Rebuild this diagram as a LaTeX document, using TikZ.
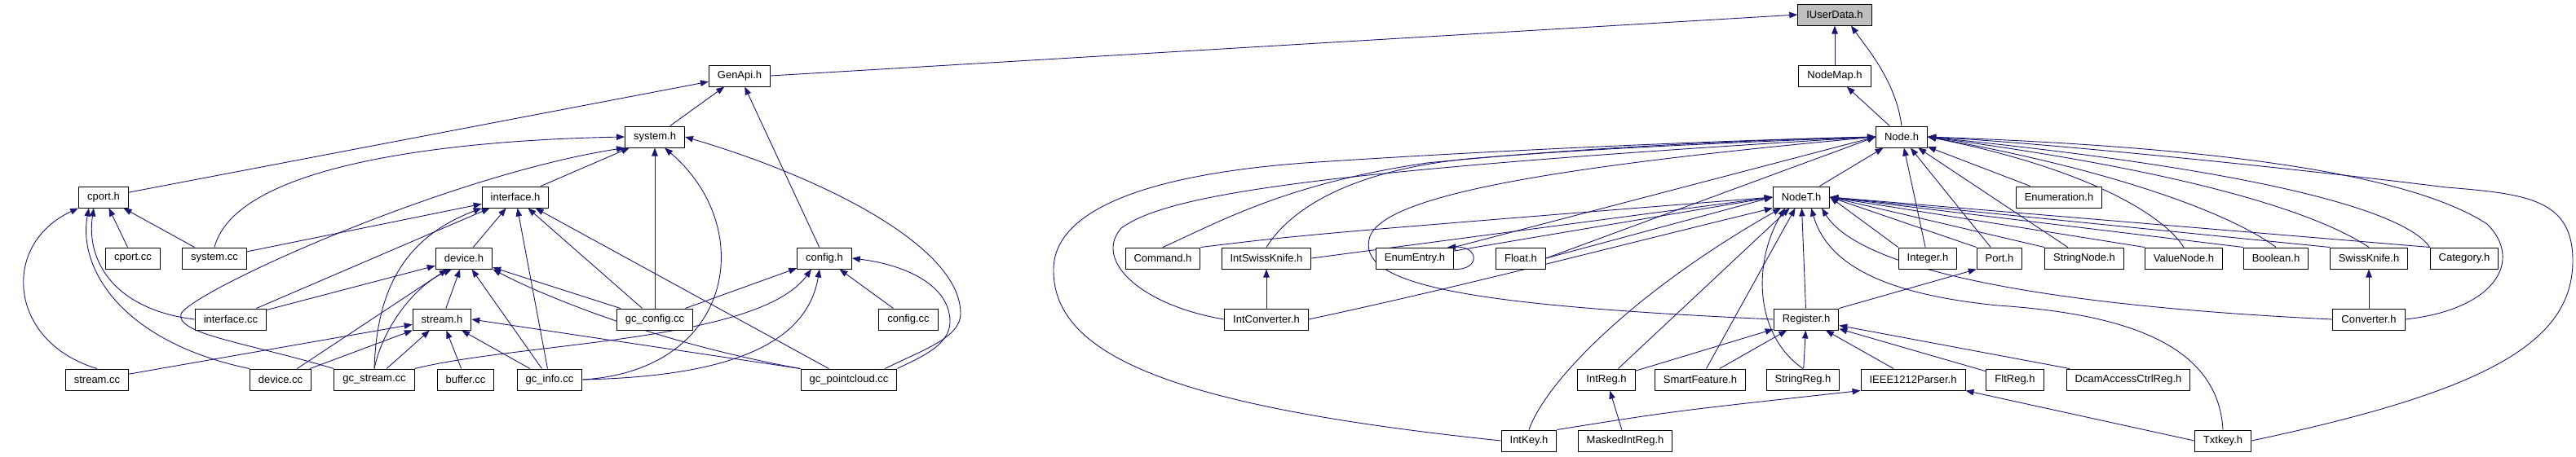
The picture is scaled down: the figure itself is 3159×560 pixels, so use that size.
\documentclass[tikz,border=0pt]{standalone}
\usepackage{fontspec}
\setmainfont{Liberation Sans}
\usepackage{xcolor}
\usepackage{tikz}
\usetikzlibrary{arrows.meta}
\definecolor{edgeblue}{HTML}{191970}
\definecolor{rootgray}{HTML}{BFBFBF}
\pgfdeclarelayer{edges}
\pgfsetlayers{edges,main}
\tikzset{
  hdr/.style={rectangle, draw=black, fill=white, line width=1pt, font=\fontsize{13pt}{15pt}\selectfont, inner xsep=10.5pt, inner ysep=0pt, minimum height=26pt},
  hdrroot/.style={hdr, fill=rootgray},
  incl/.style={-{Triangle[length=10pt,width=7.5pt]}, draw=edgeblue, line width=0.9pt},
}
\begin{document}
\begin{tikzpicture}[x=1pt, y=-1pt]
  \useasboundingbox (0,0) rectangle (3159,560);

  \node[hdrroot] (iud) at (2250,18) {IUserData.h};
  \node[hdr] (genapi) at (907,93) {GenApi.h};
  \node[hdr] (nmap) at (2250,93) {NodeMap.h};
  \node[hdr] (sysh) at (803,168) {system.h};
  \node[hdr] (nodeh) at (2332,168) {Node.h};
  \node[hdr] (cporth) at (127,242) {cport.h};
  \node[hdr] (ifh) at (632,242) {interface.h};
  \node[hdr] (nodet) at (2209,242) {NodeT.h};
  \node[hdr] (enumh) at (2525,242) {Enumeration.h};
  \node[hdr] (cportcc) at (163,317) {cport.cc};
  \node[hdr] (syscc) at (263,317) {system.cc};
  \node[hdr] (devh) at (569,317) {device.h};
  \node[hdr] (cfgh) at (1011,317) {config.h};
  \node[hdr] (cmd) at (1426,317) {Command.h};
  \node[hdr] (intsk) at (1553,317) {IntSwissKnife.h};
  \node[hdr] (enentry) at (1735,317) {EnumEntry.h};
  \node[hdr] (flt) at (1865,317) {Float.h};
  \node[hdr] (integer) at (2364,317) {Integer.h};
  \node[hdr] (port) at (2452,317) {Port.h};
  \node[hdr] (strnode) at (2556,317) {StringNode.h};
  \node[hdr] (valnode) at (2678,317) {ValueNode.h};
  \node[hdr] (bool) at (2791,317) {Boolean.h};
  \node[hdr] (swk) at (2905,317) {SwissKnife.h};
  \node[hdr] (cat) at (3022,317) {Category.h};
  \node[hdr] (ifcc) at (283,392) {interface.cc};
  \node[hdr] (strmh) at (542,392) {stream.h};
  \node[hdr] (gccfg) at (803,392) {gc\_config.cc};
  \node[hdr] (cfgcc) at (1114,392) {config.cc};
  \node[hdr] (intconv) at (1553,392) {IntConverter.h};
  \node[hdr] (reg) at (2215,392) {Register.h};
  \node[hdr] (conv) at (2905,392) {Converter.h};
  \node[hdr] (strmcc) at (119,466) {stream.cc};
  \node[hdr] (devcc) at (344,466) {device.cc};
  \node[hdr] (gcstrm) at (459,466) {gc\_stream.cc};
  \node[hdr] (bufcc) at (571,466) {buffer.cc};
  \node[hdr] (gcinfo) at (674,466) {gc\_info.cc};
  \node[hdr] (gcpc) at (1041,466) {gc\_pointcloud.cc};
  \node[hdr] (intreg) at (1970,466) {IntReg.h};
  \node[hdr] (smart) at (2085,466) {SmartFeature.h};
  \node[hdr] (strreg) at (2211,466) {StringReg.h};
  \node[hdr] (ieee) at (2346,466) {IEEE1212Parser.h};
  \node[hdr] (fltreg) at (2471,466) {FltReg.h};
  \node[hdr] (dcam) at (2610,466) {DcamAccessCtrlReg.h};
  \node[hdr] (intkey) at (1875,541) {IntKey.h};
  \node[hdr] (masked) at (1993,541) {MaskedIntReg.h};
  \node[hdr] (txtkey) at (2726,541) {Txtkey.h};

  \begin{pgfonlayer}{edges}
  \draw[incl] (genapi.east) -- (iud.west);
  \draw[incl] (sysh) -- (genapi);
  \draw[incl] (cporth) -- (genapi);
  \draw[incl] (cfgh) -- (genapi);
  \draw[incl] (ifh) -- (sysh);
  \draw[incl] (syscc.north) .. controls (290,200) and (560,172) .. (sysh.west);
  \draw[incl] (gcstrm.north west) .. controls (300,420) and (215,410) .. (222,385) .. controls (240,355) and (550,215) .. (sysh.south west);
  \draw[incl] (gccfg) -- (sysh);
  \draw[incl] (gcinfo.east) .. controls (900,455) and (930,280) .. ([xshift=12pt]sysh.south);
  \draw[incl] ([xshift=-15pt]gcpc.north east) .. controls (1130,430) and (1178,415) .. (1178,385) .. controls (1178,300) and (1000,215) .. (sysh.east);
  \draw[incl] (cportcc) -- (cporth);
  \draw[incl] (syscc) -- (cporth);
  \draw[incl] (ifcc.west) .. controls (140,380) and (105,320) .. ([xshift=-12pt]cporth.south);
  \draw[incl] (devcc.north west) .. controls (150,420) and (95,330) .. ([xshift=-18pt]cporth.south);
  \draw[incl] (strmcc.north) .. controls (10,420) and (0,300) .. (cporth.south west);
  \draw[incl] (syscc) -- (ifh);
  \draw[incl] (ifcc) -- (ifh);
  \draw[incl] (devh) -- (ifh);
  \draw[incl] (gcstrm.north) .. controls (462,350) and (500,290) .. (ifh.south west);
  \draw[incl] (gcinfo) -- (ifh);
  \draw[incl] (gccfg) -- (ifh);
  \draw[incl] (gcpc) -- (ifh);
  \draw[incl] (ifcc) -- (devh);
  \draw[incl] (strmh) -- (devh);
  \draw[incl] (devcc) -- (devh);
  \draw[incl] (gcstrm.north) .. controls (470,400) and (510,350) .. ([xshift=-15pt]devh.south);
  \draw[incl] (gcinfo) -- (devh);
  \draw[incl] (gccfg) -- (devh);
  \draw[incl] (gcpc.north west) .. controls (800,420) and (660,360) .. (devh.south east);
  \draw[incl] (strmcc) -- (strmh);
  \draw[incl] (devcc) -- (strmh);
  \draw[incl] (gcstrm) -- (strmh);
  \draw[incl] (bufcc) -- (strmh);
  \draw[incl] (gcinfo) -- (strmh);
  \draw[incl] (gcpc.north west) -- (strmh.east);
  \draw[incl] (gccfg) -- (cfgh);
  \draw[incl] (gcstrm.north east) .. controls (640,420) and (930,420) .. ([xshift=-16pt]cfgh.south);
  \draw[incl] (gcinfo.east) .. controls (900,462) and (990,420) .. ([xshift=-6pt]cfgh.south);
  \draw[incl] (cfgcc) -- (cfgh);
  \draw[incl] (gcpc.north east) .. controls (1125,440) and (1165,425) .. (1165,395) .. controls (1165,350) and (1110,325) .. (cfgh.east);

  \draw[incl] (nmap) -- (iud);
  \draw[incl] (nodeh.north) .. controls (2325,100) and (2290,60) .. ([xshift=20pt]iud.south);
  \draw[incl] (nodeh) -- (nmap);
  \draw[incl] (nodet) -- (nodeh);
  \draw[incl] (enumh) -- (nodeh);
  \draw[incl] (integer) -- (nodeh);
  \draw[incl] (port) -- (nodeh);
  \draw[incl] (strnode) -- (nodeh);
  \draw[incl] (valnode.north) .. controls (2650,260) and (2550,205) .. (nodeh.east);
  \draw[incl] (bool.north) .. controls (2740,265) and (2600,210) .. (nodeh.east);
  \draw[incl] (swk.north) .. controls (2840,260) and (2680,210) .. (nodeh.east);
  \draw[incl] (cat.north west) .. controls (2950,260) and (2780,210) .. (nodeh.east);
  \draw[incl] (conv.east) .. controls (3060,380) and (3095,320) .. (3050,275) .. controls (2950,210) and (2700,180) .. (nodeh.east);
  \draw[incl] (txtkey.east) .. controls (3050,480) and (3155,420) .. (3155,320) .. controls (3155,245) and (3100,238) .. (3000,230) .. controls (2800,205) and (2500,175) .. (nodeh.east);
  \draw[incl] (intkey.west) .. controls (1450,500) and (1290,440) .. (1292,330) .. controls (1293,260) and (1400,215) .. (1600,200) .. controls (1900,180) and (2200,170) .. (nodeh.west);
  \draw[incl] (intconv.west) .. controls (1400,375) and (1340,320) .. (1375,280) .. controls (1430,240) and (1600,210) .. (nodeh.west);
  \draw[incl] (cmd.north) .. controls (1500,270) and (1580,225) .. (1750,200) .. controls (1950,180) and (2150,172) .. (nodeh.west);
  \draw[incl] (intsk.north) .. controls (1580,260) and (1650,210) .. (1800,195) .. controls (1950,182) and (2150,174) .. (nodeh.west);
  \draw[incl] (reg.west) .. controls (1800,375) and (1660,350) .. (1680,290) .. controls (1700,240) and (1900,205) .. (nodeh.west);
  \draw[incl] (enentry.north east) -- (nodeh.west);
  \draw[incl] (flt.east) -- (nodeh.west);
  \draw[incl] (cmd.north east) .. controls (1600,288) .. (nodet.west);
  \draw[incl] (intsk.east) -- (nodet.west);
  \draw[incl] ([yshift=9pt]enentry.east) -- (nodet.west);
  \draw[incl] (flt.east) -- (nodet.west);
  \draw[incl] (intconv.east) .. controls (1800,350) and (1950,310) .. (nodet.south west);
  \draw[incl] (intkey.north) .. controls (1895,470) and (2000,360) .. ([xshift=-25pt]nodet.south);
  \draw[incl] (intreg) -- (nodet);
  \draw[incl] (smart) -- (nodet);
  \draw[incl] (strreg.north) .. controls (2150,410) and (2150,320) .. ([xshift=-20pt]nodet.south);
  \draw[incl] (reg) -- (nodet);
  \draw[incl] (conv.west) .. controls (2500,375) and (2280,330) .. ([xshift=25pt]nodet.south);
  \draw[incl] (txtkey.north) .. controls (2720,420) and (2600,385) .. (2450,375) .. controls (2300,360) and (2240,320) .. ([xshift=12pt]nodet.south);
  \draw[incl] (integer.north west) -- (nodet.east);
  \draw[incl] (port.north west) -- (nodet.east);
  \draw[incl] (strnode.north west) -- (nodet.east);
  \draw[incl] (valnode.north west) -- (nodet.east);
  \draw[incl] (bool.north west) -- (nodet.east);
  \draw[incl] (swk.north west) -- (nodet.east);
  \draw[incl] (cat.north west) -- (nodet.east);
  \draw[incl] (enentry.south east) .. controls (1815,332) and (1815,302) .. ([xshift=-8pt]enentry.north east);
  \draw[incl] (intconv) -- (intsk);
  \draw[incl] (conv) -- (swk);
  \draw[incl] (reg.north east) -- (port.south west);
  \draw[incl] (intreg) -- (reg);
  \draw[incl] (smart) -- (reg);
  \draw[incl] (strreg) -- (reg);
  \draw[incl] (ieee) -- (reg);
  \draw[incl] (fltreg) -- (reg);
  \draw[incl] (dcam) -- (reg);
  \draw[incl] (masked) -- (intreg);
  \draw[incl] (intkey.north east) .. controls (2050,505) .. (ieee.south west);
  \draw[incl] (txtkey.west) -- (ieee.south east);
  \end{pgfonlayer}
\end{tikzpicture}
\end{document}
